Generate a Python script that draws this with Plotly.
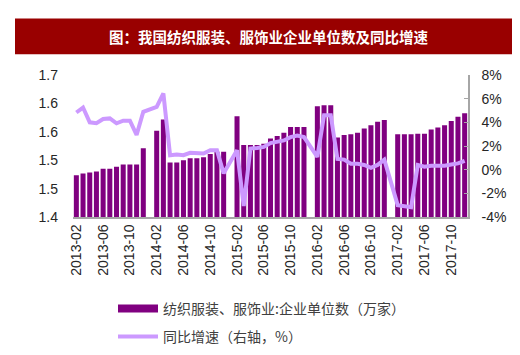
import pandas as pd
import plotly.graph_objects as go

# ---- data ----
months = [p.strftime("%Y-%m") for p in pd.period_range("2013-02", "2017-12", freq="M")]

units = [1.488, 1.492, 1.494, 1.496, 1.502, 1.502, 1.506, 1.511, 1.511, 1.511, 1.545,
         None,
         1.582, 1.606, 1.515, 1.515, 1.520, 1.524, 1.524, 1.526, 1.533, 1.538, 1.538,
         None,
         1.613, 1.552, 1.552, 1.552, 1.555, 1.566, 1.571, 1.578, 1.590, 1.590, 1.590,
         None,
         1.634, 1.636, 1.636, 1.568, 1.573, 1.575, 1.578, 1.587, 1.594, 1.601, 1.605,
         None,
         1.575, 1.575, 1.575, 1.576, 1.576, 1.585, 1.589, 1.594, 1.603, 1.612, 1.619]

growth = [4.83, 5.25, 4.00, 3.92, 4.28, 4.33, 3.92, 4.14, 4.14, 2.94, 4.89,
          None,
          5.31, 6.44, 1.22, 1.28, 1.22, 1.42, 1.42, 1.36, 1.64, 1.64, -0.31,
          None,
          1.64, -3.08, 1.78, 1.83, 1.92, 2.25, 2.33, 2.47, 2.75, 2.89, 2.75,
          None,
          1.08, 4.60, 4.60, 0.90, 0.85, 0.50, 0.50, 0.40, 0.15, 0.40, 0.85,
          None,
          -3.00, -3.08, -3.17, 0.39, 0.25, 0.33, 0.33, 0.33, 0.44, 0.53, 0.75]

x_tickvals = months[::4]
y1_tickvals = [1.40, 1.46, 1.52, 1.58, 1.64, 1.70]
y1_ticktext = ["1.4", "1.5", "1.5", "1.6", "1.6", "1.7"]
y2_tickvals = [-4, -2, 0, 2, 4, 6, 8]
y2_ticktext = ["-4%", "-2%", "0%", "2%", "4%", "6%", "8%"]

name_bar = "纺织服装、服饰业:企业单位数（万家）"
name_line = "同比增速（右轴，%）"
title_text = "图：我国纺织服装、服饰业企业单位数及同比增速"

# ---- styles ----
BAR_COLOR = "#800080"
LINE_COLOR = "#CC99FF"
TITLE_BG = "#990000"
AXIS_GREY = "#A6A6A6"
TXT = "#262626"
num_font = dict(family="Arial, Liberation Sans, sans-serif", size=14, color=TXT)
cjk_font = dict(family="Noto Sans CJK SC, sans-serif", size=14, color="#404040")

fig = go.Figure()
fig.add_trace(go.Bar(x=months, y=units, marker=dict(color=BAR_COLOR, line=dict(width=0)),
                     name=name_bar, showlegend=False, yaxis="y"))
fig.add_trace(go.Scatter(x=[None], y=[None], mode="lines", name=name_bar,
                         line=dict(color=BAR_COLOR, width=8), legend="legend", showlegend=True))
fig.add_trace(go.Scatter(x=months, y=growth, mode="lines", name=name_line, yaxis="y2",
                         connectgaps=True, line=dict(color=LINE_COLOR, width=4),
                         legend="legend2", showlegend=True))

L, R, T, B = 65, 60, 67, 145
W, H = 520, 355
pw, ph = W - L - R, H - T - B

def px_x(px):
    return (px - L) / pw

def px_y(py):
    return (H - B - py) / ph

fig.update_layout(
    width=W, height=H,
    margin=dict(l=L, r=R, t=T, b=B),
    paper_bgcolor="white", plot_bgcolor="white",
    bargap=0.25,
    xaxis=dict(type="category", categoryorder="array", categoryarray=months,
               tickmode="array", tickvals=x_tickvals, tickangle=-90,
               tickfont=num_font, showline=True, linecolor=AXIS_GREY, linewidth=1.5,
               showgrid=False, zeroline=False, ticks=""),
    yaxis=dict(range=[1.4, 1.7], tickmode="array", tickvals=y1_tickvals, ticktext=y1_ticktext,
               tickfont=num_font, showgrid=False, zeroline=False, showline=False,
               ticks="", ticklabelstandoff=14),
    yaxis2=dict(range=[-4, 8], overlaying="y", side="right", tickmode="array",
                tickvals=y2_tickvals, ticktext=y2_ticktext, tickfont=num_font,
                showgrid=False, zeroline=False, showline=True, linecolor=AXIS_GREY,
                linewidth=1.5, ticks="inside", ticklen=4, tickcolor=AXIS_GREY,
                ticklabelstandoff=9),
    legend=dict(x=px_x(105), y=px_y(301), xanchor="left", yanchor="middle",
                font=cjk_font, bgcolor="rgba(0,0,0,0)", itemwidth=40),
    legend2=dict(x=px_x(105), y=px_y(329), xanchor="left", yanchor="middle",
                 font=cjk_font, bgcolor="rgba(0,0,0,0)", itemwidth=40),
    shapes=[dict(type="rect", xref="paper", yref="paper",
                 x0=px_x(7), x1=px_x(512), y0=px_y(46), y1=px_y(10),
                 fillcolor=TITLE_BG, line=dict(width=0), layer="below")],
    annotations=[dict(text="<b>" + title_text + "</b>", xref="paper", yref="paper",
                      x=px_x(260.5), y=px_y(28), xanchor="center", yanchor="middle",
                      showarrow=False,
                      font=dict(family="Noto Sans CJK SC, sans-serif", size=14.5, color="white"))],
)

fig.write_html("out.html")
